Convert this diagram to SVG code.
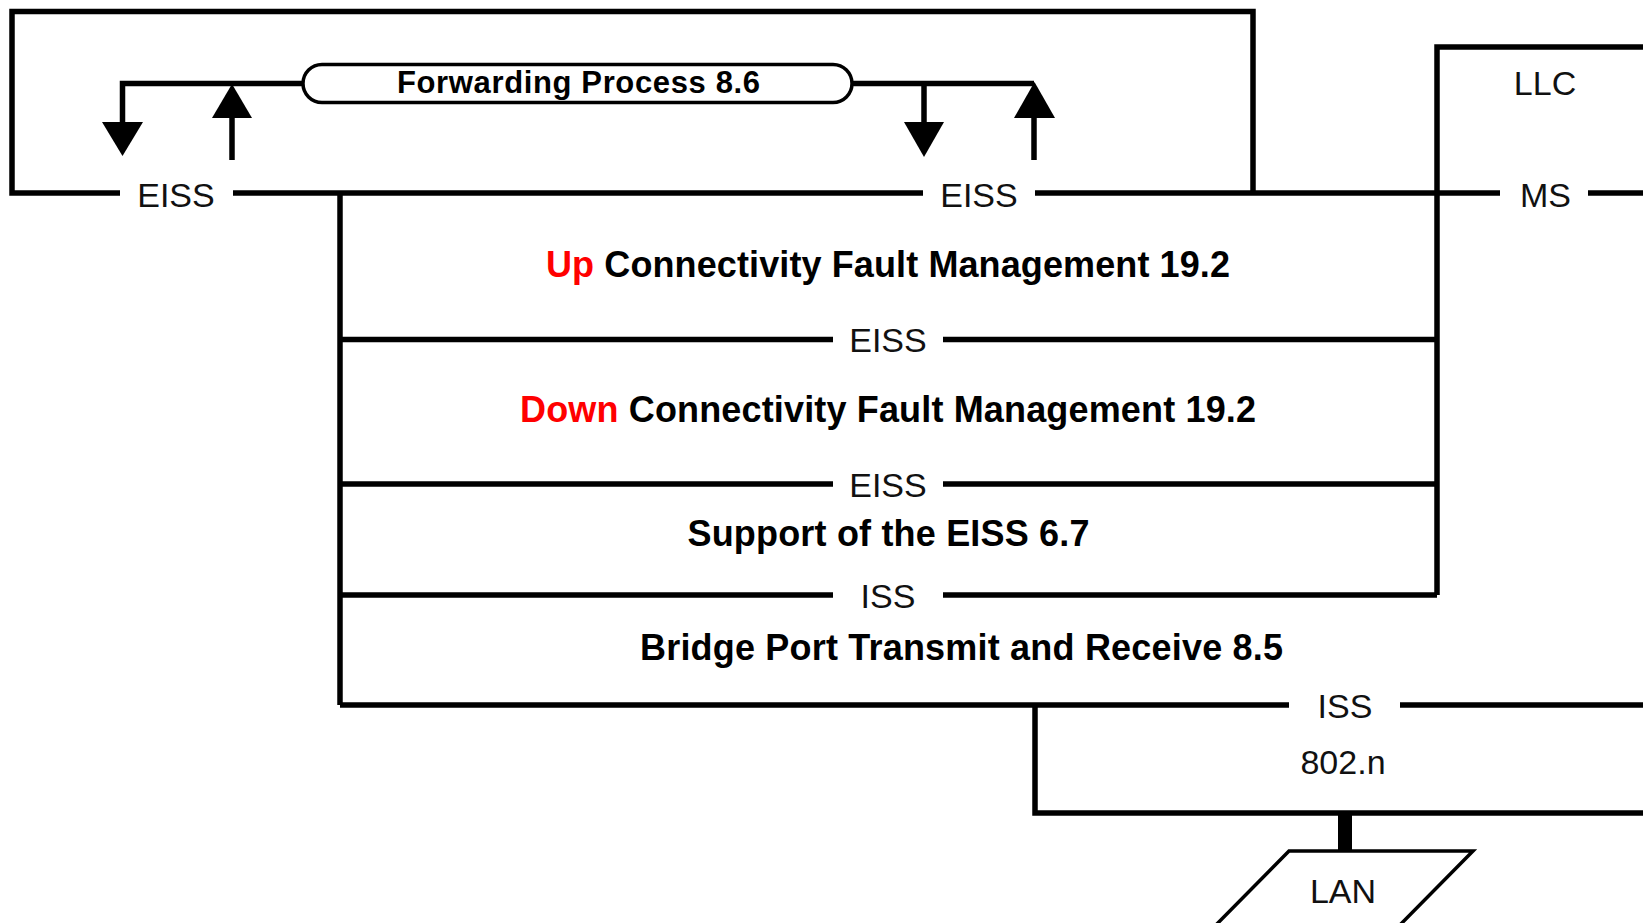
<svg xmlns="http://www.w3.org/2000/svg" width="1643" height="923" viewBox="0 0 1643 923">
<style>
.ln{fill:none;stroke:#000;stroke-width:5.5;stroke-linecap:butt;stroke-linejoin:miter}
.lbl{font-family:"Liberation Sans",Arial,sans-serif;font-size:34px;fill:#111;text-anchor:middle}
.ttl{font-family:"Liberation Sans",Arial,sans-serif;font-size:36px;font-weight:bold;fill:#000;text-anchor:middle}
.red{fill:#ff0000}
.head{fill:#000;stroke:none}
</style>
<rect x="0" y="0" width="1643" height="923" fill="#fff"/>
<g id="connectors">
  <path class="ln" d="M120,193 H12 V11.5 H1253 V193"/>
  <path class="ln" d="M233,193 H923 M1035,193 H1500 M1588,193 H1643"/>
  <path class="ln" d="M1437,595 V47 H1643"/>
  <path class="ln" d="M340,193 V705"/>
  <path class="ln" d="M340,339.5 H833 M943,339.5 H1437"/>
  <path class="ln" d="M340,484 H833 M943,484 H1437"/>
  <path class="ln" d="M340,595 H833 M943,595 H1437"/>
  <path class="ln" d="M340,705 H1289 M1400,705 H1643"/>
  <path class="ln" d="M1035,705 V813 H1643"/>
  <path d="M1345,813 V852" stroke="#000" stroke-width="14" fill="none"/>
  <path class="ln" d="M303,83.5 H122.5 V124"/>
  <polygon class="head" points="102,122 143,122 122.5,156"/>
  <path class="ln" d="M232,160 V115"/>
  <polygon class="head" points="212,118 252,118 232,84"/>
  <path class="ln" d="M852,83.5 H1034"/>
  <path class="ln" d="M924,83.5 V124"/>
  <polygon class="head" points="904,122 944,122 924,157"/>
  <path class="ln" d="M1034,160 V115"/>
  <polygon class="head" points="1014,118 1055,118 1034.5,82"/>
</g>
<g id="forwarding">
  <rect x="303" y="64.5" width="549" height="38" rx="19" ry="19" fill="#fff" stroke="#000" stroke-width="3.5"/>
  <text x="578.5" y="93" font-family="'Liberation Sans',Arial,sans-serif" font-size="31" font-weight="bold" text-anchor="middle" textLength="363" lengthAdjust="spacing">Forwarding Process 8.6</text>
</g>
<g id="eiss-left"><text class="lbl" x="176" y="207">EISS</text></g>
<g id="eiss-right"><text class="lbl" x="979" y="207">EISS</text></g>
<g id="llc"><text class="lbl" x="1545" y="95">LLC</text></g>
<g id="ms"><text class="lbl" x="1545.5" y="207">MS</text></g>
<g id="up-cfm"><text class="ttl" x="888" y="277" textLength="684" lengthAdjust="spacing"><tspan class="red">Up</tspan> Connectivity Fault Management 19.2</text></g>
<g id="eiss-1"><text class="lbl" x="888" y="352">EISS</text></g>
<g id="down-cfm"><text class="ttl" x="888" y="422" textLength="736" lengthAdjust="spacing"><tspan class="red">Down</tspan> Connectivity Fault Management 19.2</text></g>
<g id="eiss-2"><text class="lbl" x="888" y="497">EISS</text></g>
<g id="support"><text class="ttl" x="888.5" y="546" textLength="402" lengthAdjust="spacing">Support of the EISS 6.7</text></g>
<g id="iss-1"><text class="lbl" x="888" y="608">ISS</text></g>
<g id="bridge-port"><text class="ttl" x="961.5" y="660" textLength="643" lengthAdjust="spacing">Bridge Port Transmit and Receive 8.5</text></g>
<g id="iss-2"><text class="lbl" x="1345" y="718">ISS</text></g>
<g id="mac-802n"><text class="lbl" x="1343" y="774">802.n</text></g>
<g id="lan">
  <polygon points="1289,851 1473,851 1393,932 1209,932" fill="#fff" stroke="#000" stroke-width="3.5" stroke-linejoin="miter"/>
  <text class="lbl" x="1343" y="903">LAN</text>
</g>
</svg>
